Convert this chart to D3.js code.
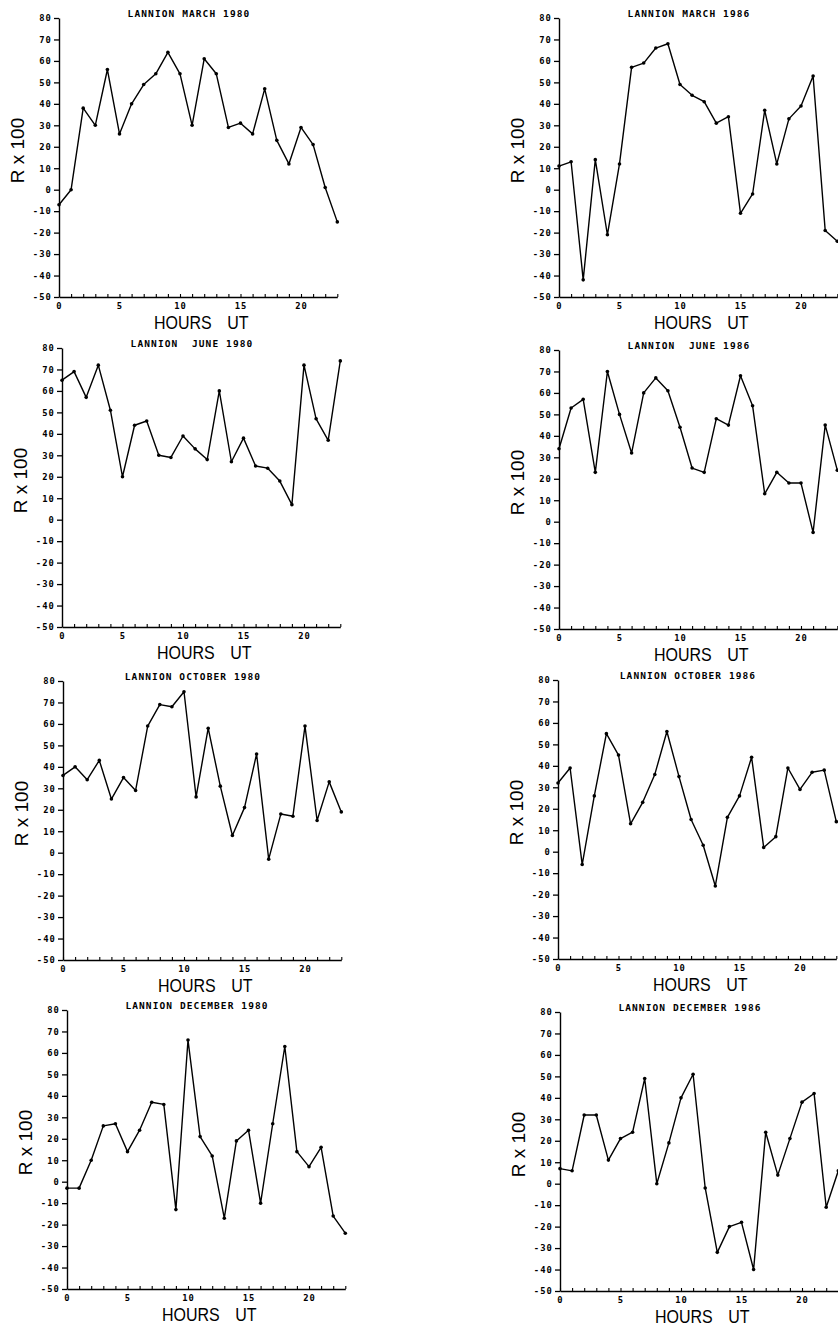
<!DOCTYPE html>
<html>
<head>
<meta charset="utf-8">
<script src="https://cdn.jsdelivr.net/npm/d3@7"></script>
<style>
  html, body { margin: 0; padding: 0; background: #fff; }
  svg { display: block; }
</style>
</head>
<body>
<svg id="chart" width="838" height="1326"></svg>
<script>
// ---------------- DATA ----------------
const hours = [0,1,2,3,4,5,6,7,8,9,10,11,12,13,14,15,16,17,18,19,20,21,22,23];
const xTickLabels = [0, 5, 10, 15, 20];
const yTickValues = [80, 70, 60, 50, 40, 30, 20, 10, 0, -10, -20, -30, -40, -50];

const titles = [
  "LANNION MARCH 1980", "LANNION MARCH 1986",
  "LANNION  JUNE 1980", "LANNION  JUNE 1986",
  "LANNION OCTOBER 1980", "LANNION OCTOBER 1986",
  "LANNION DECEMBER 1980", "LANNION DECEMBER 1986"
];

const march1980 = [-7, 0, 38, 30, 56, 26, 40, 49, 54, 64, 54, 30, 61, 54, 29, 31, 26, 47, 23, 12, 29, 21, 1, -15];
const march1986 = [11, 13, -42, 14, -21, 12, 57, 59, 66, 68, 49, 44, 41, 31, 34, -11, -2, 37, 12, 33, 39, 53, -19, -24];
const june1980 = [65, 69, 57, 72, 51, 20, 44, 46, 30, 29, 39, 33, 28, 60, 27, 38, 25, 24, 18, 7, 72, 47, 37, 74];
const june1986 = [34, 53, 57, 23, 70, 50, 32, 60, 67, 61, 44, 25, 23, 48, 45, 68, 54, 13, 23, 18, 18, -5, 45, 24];
const october1980 = [36, 40, 34, 43, 25, 35, 29, 59, 69, 68, 75, 26, 58, 31, 8, 21, 46, -3, 18, 17, 59, 15, 33, 19];
const october1986 = [32, 39, -6, 26, 55, 45, 13, 23, 36, 56, 35, 15, 3, -16, 16, 26, 44, 2, 7, 39, 29, 37, 38, 14];
const december1980 = [-3, -3, 10, 26, 27, 14, 24, 37, 36, -13, 66, 21, 12, -17, 19, 24, -10, 27, 63, 14, 7, 16, -16, -24];
const december1986 = [7, 6, 32, 32, 11, 21, 24, 49, 0, 19, 40, 51, -2, -32, -20, -18, -40, 24, 4, 21, 38, 42, -11, 6];

const seriesList = [march1980, march1986, june1980, june1986, october1980, october1986, december1980, december1986];

// ---------------- LAYOUT (positions only) ----------------
const layout = [
  {ax: 59,  top: 18},   {ax: 559, top: 18},
  {ax: 62,  top: 348},  {ax: 559, top: 350},
  {ax: 63,  top: 681},  {ax: 558, top: 680},
  {ax: 67,  top: 1010}, {ax: 560, top: 1012}
];
const plotH = 279;
const hourW = 12.1;

const svg = d3.select("#chart");
const monoFont = "'DejaVu Sans Mono', 'Liberation Mono', monospace";
const sansFont = "'Liberation Sans', Arial, sans-serif";

seriesList.forEach((values, i) => {
  const L = layout[i];
  const x = d3.scaleLinear().domain([0, 23]).range([L.ax, L.ax + 23 * hourW]);
  const y = d3.scaleLinear().domain([-50, 80]).range([L.top + plotH, L.top]);
  const g = svg.append("g");

  // Y axis
  const yAxis = d3.axisLeft(y)
    .tickValues(yTickValues)
    .tickSize(5)
    .tickSizeOuter(0)
    .tickPadding(2)
    .tickFormat(d => String(d));
  const gy = g.append("g").attr("transform", `translate(${L.ax},0)`).call(yAxis);
  gy.select(".domain").attr("stroke", "#000").attr("stroke-width", 1.4);
  gy.selectAll(".tick line").attr("stroke", "#000").attr("stroke-width", 1.3);
  gy.selectAll(".tick text")
    .attr("fill", "#000")
    .style("font-family", monoFont)
    .style("font-weight", "bold")
    .style("font-size", "8.8px")
    .style("letter-spacing", "1.1px");

  // X axis
  const xAxis = d3.axisBottom(x)
    .tickValues(hours)
    .tickSize(-3)
    .tickSizeOuter(0)
    .tickPadding(6)
    .tickFormat(d => xTickLabels.includes(d) ? String(d) : "");
  const gx = g.append("g").attr("transform", `translate(0,${L.top + plotH})`).call(xAxis);
  gx.select(".domain").attr("stroke", "#000").attr("stroke-width", 1.4);
  gx.selectAll(".tick line").attr("stroke", "#000").attr("stroke-width", 1.1);
  gx.selectAll(".tick text")
    .attr("fill", "#000")
    .style("font-family", monoFont)
    .style("font-weight", "bold")
    .style("font-size", "8.8px")
    .style("letter-spacing", "1px");

  // Title
  g.append("text")
    .attr("x", L.ax + 130)
    .attr("y", L.top - 1)
    .attr("text-anchor", "middle")
    .style("white-space", "pre")
    .style("font-family", monoFont)
    .style("font-weight", "bold")
    .style("font-size", "9.5px")
    .style("letter-spacing", "1.1px")
    .attr("fill", "#000")
    .text(titles[i]);

  // X axis label
  const bx = L.ax + 95;
  const by = L.top + plotH + 32;
  g.append("text")
    .attr("transform", `translate(${bx},${by}) scale(1,1.2)`)
    .attr("text-anchor", "start")
    .style("font-family", sansFont)
    .style("font-size", "16px")
    .style("word-spacing", "11px")
    .attr("fill", "#000")
    .text("HOURS UT");

  // Y axis label
  const ly = L.top + plotH / 2 - 7;
  g.append("text")
    .attr("transform", `translate(${L.ax - 35},${ly}) rotate(-90)`)
    .attr("text-anchor", "middle")
    .style("font-family", sansFont)
    .style("font-size", "19px")
    .attr("fill", "#000")
    .text("R x 100");

  // Line
  const line = d3.line().x((d, k) => x(hours[k])).y(d => y(d));
  g.append("path")
    .datum(values)
    .attr("d", line)
    .attr("fill", "none")
    .attr("stroke", "#000")
    .attr("stroke-width", 1.4)
    .attr("stroke-linejoin", "round");

  // Points
  g.selectAll("circle.pt")
    .data(values)
    .enter().append("circle")
    .attr("class", "pt")
    .attr("cx", (d, k) => x(hours[k]))
    .attr("cy", d => y(d))
    .attr("r", 1.8)
    .attr("fill", "#000");
});
</script>
</body>
</html>
